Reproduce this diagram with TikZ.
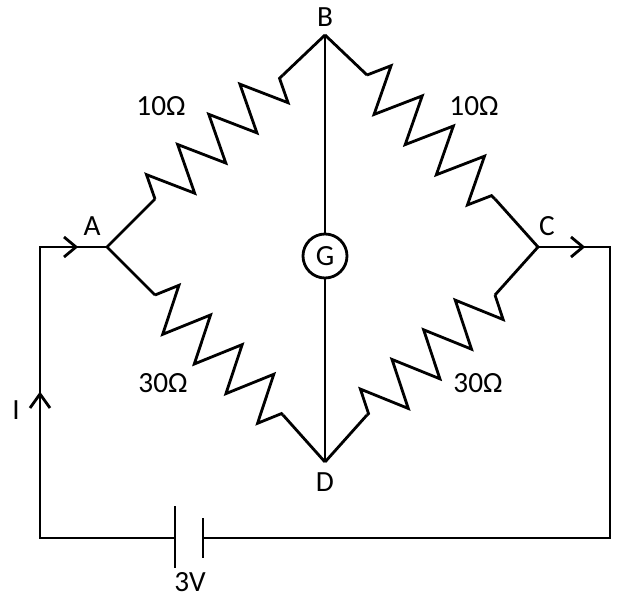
\documentclass[tikz,border=0pt]{standalone}
\usepackage{fontspec}
\setmainfont{Carlito}
\usetikzlibrary{decorations.pathmorphing}
\begin{document}
\begin{tikzpicture}[x=0.03cm,y=-0.03cm,line width=2.4pt,
  res/.style={decorate,decoration={zigzag,segment length=37pt,amplitude=20pt}},
  lbl/.style={font=\fontsize{25}{25}\selectfont},
  chev/.style={line width=2.4pt}]
\useasboundingbox (0,0) rectangle (624,597);
\coordinate (A) at (107,247); \coordinate (B) at (325,35);
\coordinate (C) at (538,247); \coordinate (D) at (325,462);
\coordinate (a1) at (155,199); \coordinate (a2) at (283,75);
\coordinate (b1) at (367,75); \coordinate (b2) at (495,199);
\coordinate (c1) at (495,295); \coordinate (c2) at (367,415);
\coordinate (d1) at (155,295); \coordinate (d2) at (283,415);
\draw (A) -- (a1); \draw[res] (a1) -- (a2); \draw (a2) -- (B);
\draw (B) -- (b1); \draw[res] (b1) -- (b2); \draw (b2) -- (C);
\draw (C) -- (c1); \draw[res] (c1) -- (c2); \draw (c2) -- (D);
\draw (A) -- (d1); \draw[res] (d1) -- (d2); \draw (d2) -- (D);
\node[circle,draw,line width=2.4pt,minimum size=44*0.03cm,inner sep=0,lbl] (G) at (325,256) {G};
\draw (B) -- (G) -- (D);
\coordinate (TL) at (40,247); \coordinate (BL) at (40,538);
\coordinate (TR) at (610,247); \coordinate (BR) at (610,538);
\coordinate (p1) at (175,538); \coordinate (p2) at (203,538);
\draw (A) -- (TL) -- (BL) -- (p1);
\draw (C) -- (TR) -- (BR) -- (p2);
\draw (175,506) -- (175,568);
\draw (203,518) -- (203,558);
\draw[chev] (64,237) -- (76,247) -- (64,257);
\draw[chev] (571,237) -- (583,247) -- (571,257);
\draw[chev] (30,408) -- (40,394) -- (50,408);
\node[lbl] at (92,226) {A};
\node[lbl] at (325,17) {B};
\node[lbl] at (547,226) {C};
\node[lbl] at (325,482) {D};
\node[lbl] at (16,410) {I};
\node[lbl] at (161,106) {10Ω};
\node[lbl] at (474,106) {10Ω};
\node[lbl] at (163,383) {30Ω};
\node[lbl] at (478,383) {30Ω};
\node[lbl] at (190,582) {3V};
\end{tikzpicture}
\end{document}
